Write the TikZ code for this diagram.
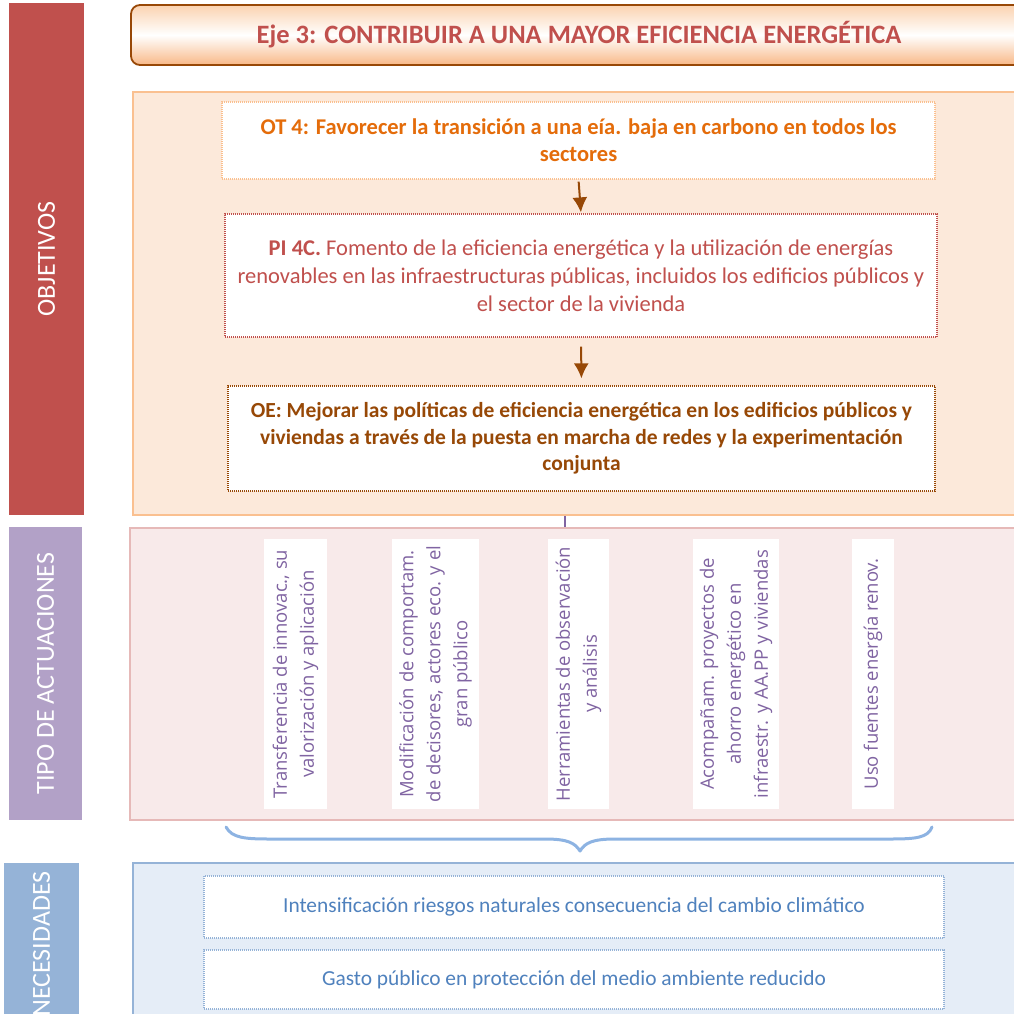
\documentclass[tikz,border=0pt]{standalone}
\usepackage{fontspec}
\setmainfont{Carlito}
\newfontfamily\osans{Open Sans}
\usetikzlibrary{calc,arrows.meta}
\definecolor{barred}{RGB}{192,80,77}
\definecolor{barpurple}{RGB}{178,161,199}
\definecolor{barblue}{RGB}{149,179,215}
\definecolor{hdrborder}{RGB}{152,72,7}
\definecolor{hdrtop}{RGB}{251,210,176}
\definecolor{hdrbot}{RGB}{248,184,135}
\definecolor{objfill}{RGB}{252,233,218}
\definecolor{objborder}{RGB}{250,192,144}
\definecolor{otcol}{RGB}{228,108,10}
\definecolor{picol}{RGB}{192,80,77}
\definecolor{oecol}{RGB}{151,72,6}
\definecolor{tipofill}{RGB}{248,234,234}
\definecolor{tipoborder}{RGB}{230,185,184}
\definecolor{actcol}{RGB}{128,100,162}
\definecolor{necfill}{RGB}{229,237,247}
\definecolor{necborder}{RGB}{149,179,215}
\definecolor{nectext}{RGB}{79,129,189}
\definecolor{bracecol}{RGB}{141,179,226}
\tikzset{
  leftbar/.style={rotate=90, inner sep=0pt, text=white, font=\fontsize{26}{30}\selectfont},
  panel/.style={inner sep=0pt, line width=1.6pt},
  dotbox/.style={fill=white, inner sep=0pt, line width=1.2pt, dash pattern=on 1pt off 1pt, align=center},
  colbox/.style={fill=white, rotate=90, inner sep=0pt, align=center, text=actcol,
     font=\osans\fontsize{18.5}{27}\selectfont, minimum width=270pt},
  arr/.style={draw=oecol, line width=2pt, -{Latex[length=15pt,width=15pt]}},
}
\begin{document}
\begin{tikzpicture}[x=1pt,y=-1pt]
\useasboundingbox (0,0) rectangle (1013,1014);
% left bars
\node[leftbar, fill=barred, minimum width=512pt, minimum height=75pt] (lobj) at (46.5,259) {OBJETIVOS};
\node[leftbar, fill=barpurple, minimum width=293pt, minimum height=73pt] (ltipo) at (45.5,673.5) {TIPO DE ACTUACIONES};
\node[leftbar, fill=barblue, minimum width=162pt, minimum height=75pt] (lnec) at (41.5,944) {NECESIDADES};
% header
\node[draw=hdrborder, line width=1.8pt, rounded corners=9pt, top color=hdrtop, bottom color=hdrbot, middle color=white,
  minimum width=896pt, minimum height=60pt, inner sep=0pt, text=barred,
  font=\bfseries\fontsize{26.5}{30}\selectfont] (eje) at (579,35) {\raisebox{-2pt}{Eje 3: CONTRIBUIR A UNA MAYOR EFICIENCIA ENERGÉTICA}};
% objetivos panel
\node[panel, draw=objborder, fill=objfill, minimum width=897pt, minimum height=423pt] (objp) at (581.5,303.5) {};
\node[dotbox, draw=objborder, text=otcol, minimum width=713pt, minimum height=77pt,
  font=\bfseries\fontsize{22.5}{27}\selectfont] (ot) at (578.5,140.5)
  {OT 4: Favorecer la transición a una eía. baja en carbono en todos los\\ sectores};
\node[dotbox, draw=picol, text=picol, minimum width=712pt, minimum height=123pt,
  font=\fontsize{22.5}{28}\selectfont] (pi) at (581,275.5)
  {\textbf{PI 4C.} Fomento de la eficiencia energética y la utilización de energías\\
   renovables en las infraestructuras públicas, incluidos los edificios públicos y\\
   el sector de la vivienda};
\node[dotbox, draw=oecol, text=oecol, minimum width=707pt, minimum height=105pt,
  font=\bfseries\fontsize{21.5}{26.5}\selectfont] (oe) at (581.5,438.5)
  {OE: Mejorar las políticas de eficiencia energética en los edificios públicos y\\
   viviendas a través de la puesta en marcha de redes y la experimentación\\
   conjunta};
\draw[arr, shorten <=2pt, shorten >=1pt] (ot.south) -- (pi.north);
\draw[arr, shorten <=9pt, shorten >=7pt] (pi.south) -- (oe.north);
% tipo panel
\node[panel, draw=tipoborder, fill=tipofill, minimum width=900pt, minimum height=292pt] (tipo) at (580,674) {};
\coordinate (cx) at (565,0);
\draw[actcol, line width=1.6pt] (objp.south -| cx) -- (tipo.north -| cx);
\node[colbox, minimum height=63pt] (c1) at (295.5,674) {Transferencia de innovac., su\\ valorización y aplicación};
\node[colbox, minimum height=87pt] (c2) at (435.5,674) {Modificación de comportam.\\ de decisores, actores eco. y el\\ gran público};
\node[colbox, minimum height=61pt] (c3) at (578.5,674) {Herramientas de observación\\ y análisis};
\node[colbox, minimum height=86pt] (c4) at (736,674) {Acompañam. proyectos de\\ ahorro energético en\\ infraestr. y AA.PP y viviendas};
\node[colbox, minimum height=42pt] (c5) at (873,674) {Uso fuentes energía renov.};
% brace
\coordinate (bl) at (226,827);
\coordinate (br) at (932,827);
\coordinate (bt) at (580,851);
\draw[bracecol, line width=3pt, line cap=round, line join=round]
  (bl) .. controls (232,838) and (245,839) .. (270,839) -- (545,839)
  .. controls (568,839) and (575,843) .. (bt)
  .. controls (585,843) and (592,839) .. (615,839) -- (890,839)
  .. controls (915,839) and (928,838) .. (br);
% necesidades panel
\node[panel, draw=necborder, fill=necfill, minimum width=897pt, minimum height=170pt] (nec) at (581.5,948) {};
\node[dotbox, draw=necborder, text=nectext, minimum width=740pt, minimum height=62pt,
  font=\fontsize{21.4}{25}\selectfont] (n1) at (574,907) {Intensificación riesgos naturales consecuencia del cambio climático};
\node[dotbox, draw=necborder, text=nectext, minimum width=740pt, minimum height=59pt,
  font=\fontsize{21.4}{25}\selectfont] (n2) at (574,979.5) {Gasto público en protección del medio ambiente reducido};
\end{tikzpicture}
\end{document}
